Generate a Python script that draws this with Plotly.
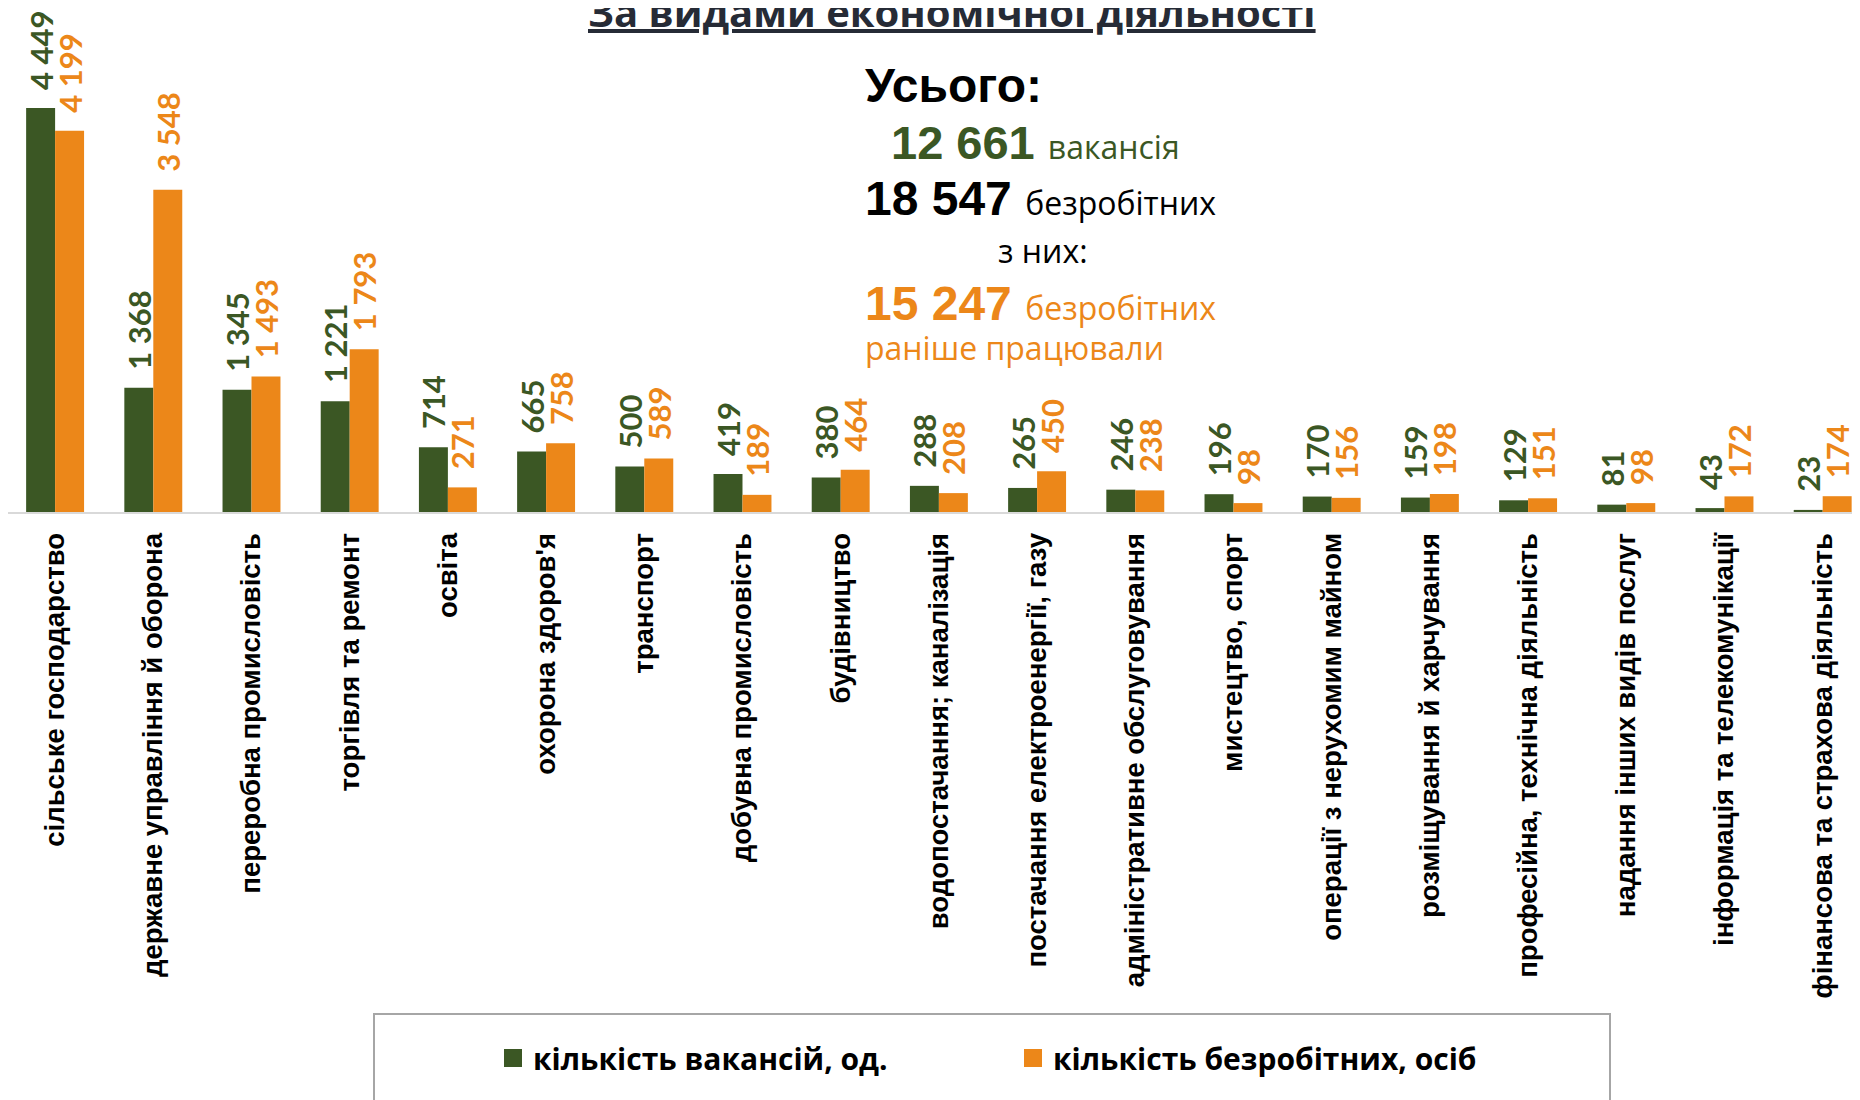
import plotly.graph_objects as go

categories = [
    "сільське господарство",
    "державне управління й оборона",
    "переробна промисловість",
    "торгівля та ремонт",
    "освіта",
    "охорона здоров'я",
    "транспорт",
    "добувна промисловість",
    "будівництво",
    "водопостачання; каналізація",
    "постачання електроенергії, газу",
    "адміністративне обслуговування",
    "мистецтво, спорт",
    "операції з нерухомим майном",
    "розміщування й харчування",
    "професійна, технічна діяльність",
    "надання інших видів послуг",
    "інформація та телекомунікації",
    "фінансова та страхова діяльність",
]
vacancies = [4449, 1368, 1345, 1221, 714, 665, 500, 419, 380, 288, 265, 246, 196, 170, 159, 129, 81, 43, 23]
unemployed_prev = [4199, 3548, 1493, 1793, 271, 758, 589, 189, 464, 208, 450, 238, 98, 156, 198, 151, 98, 172, 174]
total_unemployed = 18547

series_names = ["кількість вакансій, од.", "кількість безробітних, осіб"]
title_text = "За видами економічної діяльності"

GREEN = "#3b5724"
ORANGE = "#ec8719"

# the page body adds an 8px offset; figure sized so it ends at the window edge
OFF = 8
W, H = 1860 - OFF, 1100 - OFF
ML, MR, MT = 0, 0, 0
PH = 504
MB = H - MT - PH
PW = W - ML - MR


def px2x(px):
    return (px - OFF - ML) / PW


def py2y(py):
    return (MT + PH - (py - OFF)) / PH


def fmt(n):
    return f"{n:,}".replace(",", " ")


LABEL_FONT = dict(family="Lato", size=31, weight=700)

fig = go.Figure()
for vals, name, color in [(vacancies, series_names[0], GREEN), (unemployed_prev, series_names[1], ORANGE)]:
    fig.add_trace(go.Bar(
        x=categories, y=vals, name=name, showlegend=False,
        marker=dict(color=color, line=dict(width=0)),
        texttemplate="&nbsp;&nbsp;%{y:,}", textposition="outside", textangle=-90,
        textfont=dict(color=color, **LABEL_FONT),
        cliponaxis=False, constraintext="none",
    ))
# legend entries (square swatches)
for name, color in [(series_names[0], GREEN), (series_names[1], ORANGE)]:
    fig.add_trace(go.Scatter(
        x=[None], y=[None], mode="markers", name=name, showlegend=True,
        marker=dict(symbol="square", size=16, color=color, line=dict(color=color, width=2)),
    ))

annotations = []
annotations.append(dict(
    text="<u>" + title_text + "</u>", xref="paper", yref="paper",
    x=px2x(952), y=py2y(24 - 0.3 * 40), xanchor="center", yanchor="middle", showarrow=False,
    font=dict(family="Open Sans", size=40, color="#262b36", weight=700),
))

BOLD = "Liberation Sans"
REG = "Open Sans"


def word(t, size=32):
    return f"<span style='font-family:{REG};font-size:{size}px;font-weight:400'>{t}</span>"


def line(text, left_px, baseline_px, fs, color, weight=700, family=BOLD):
    annotations.append(dict(
        text=text, xref="paper", yref="paper",
        x=px2x(left_px), y=py2y(baseline_px - 0.3 * fs),
        xanchor="left", yanchor="middle", showarrow=False,
        font=dict(family=family, size=fs, color=color, weight=weight),
    ))


line("Усього:", 863, 100, 48, "#000000")
line(fmt(sum(vacancies)) + " " + word("вакансія"), 889, 157, 47, GREEN)
line(fmt(total_unemployed) + " " + word("безробітних"), 863, 213, 48, "#000000")
line("з них:", 996, 260, 32, "#000000", weight=400, family=REG)
# last two lines as one block (line spacing 1.3 x base font)
annotations.append(dict(
    text=(f"<span style='font-family:{BOLD};font-size:48px;font-weight:700'>{fmt(sum(unemployed_prev))}&nbsp;</span>"
          + word("безробітних") + "<br>" + word("раніше працювали")),
    xref="paper", yref="paper", x=px2x(863), y=py2y(317 - 42),
    xanchor="left", yanchor="top", align="left", showarrow=False,
    font=dict(family=REG, size=31, color=ORANGE),
))

fig.update_layout(
    width=W, height=H,
    margin=dict(l=ML, r=MR, t=MT, b=MB, pad=0),
    paper_bgcolor="white", plot_bgcolor="white",
    barmode="group", bargap=0.41, bargroupgap=0,
    separators=", ",
    showlegend=True,
    legend=dict(
        orientation="h", x=px2x(1013), xanchor="center",
        y=py2y(1058), yanchor="middle",
        font=dict(family="Open Sans", size=30, color="#000000", weight=700),
        bgcolor="rgba(0,0,0,0)", itemwidth=30, itemsizing="trace",
        entrywidth=475, entrywidthmode="pixels",
    ),
    annotations=annotations,
    shapes=[dict(
        type="rect", xref="paper", yref="paper",
        x0=px2x(374), x1=px2x(1610), y0=py2y(1014), y1=py2y(1120),
        line=dict(color="#a6a6a6", width=2), fillcolor="rgba(0,0,0,0)", layer="below",
    )],
    xaxis=dict(
        range=[-0.4796, 18.38], showgrid=False, zeroline=False,
        showline=True, linecolor="#d9d9d9", linewidth=2,
        tickangle=-90, ticks="", ticklabelstandoff=8,
        tickfont=dict(family="Liberation Sans", size=27.5, color="#000000", weight=700),
        fixedrange=True,
    ),
    yaxis=dict(
        range=[0, PH / 0.0908], visible=False, showgrid=False, zeroline=False,
        fixedrange=True,
    ),
)

fig.write_html("out.html")
